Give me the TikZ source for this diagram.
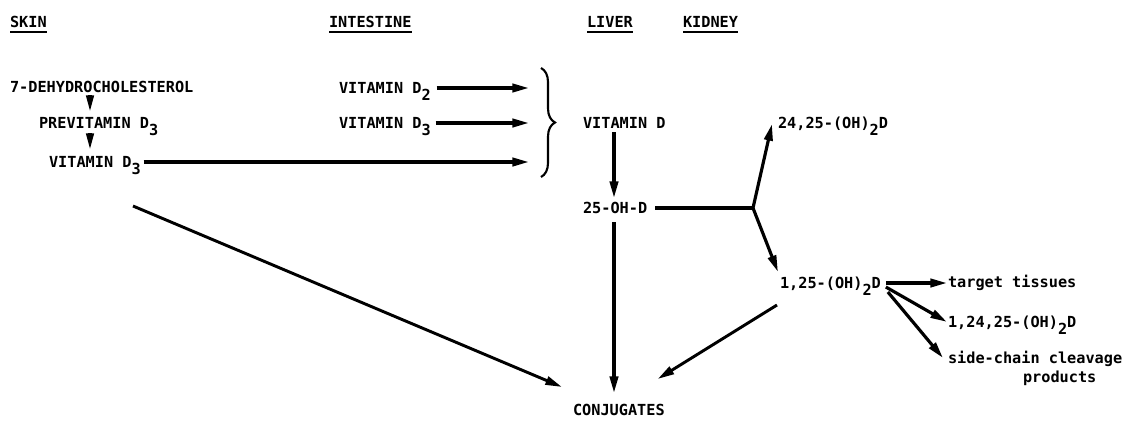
\documentclass[tikz,border=0pt]{standalone}
\usepackage{fontspec}
\setmainfont{DejaVu Sans Mono}
\usetikzlibrary{arrows.meta,decorations.pathreplacing}
\newdimen\pxu \pxu=0.03cm % one pixel of the scan
\newsavebox\headbox
\newcommand\headline[1]{\sbox\headbox{#1}\rlap{\rule[-5pt]{\wd\headbox}{1.3pt}}\usebox\headbox}
\newcommand\low[1]{\raisebox{-6pt}{#1}}
\tikzset{
	->, % every connector gets a head
	>={Triangle[length=0.5cm,width=0.25cm]}, % filled heads as in the print
	x=0.03cm, y=-0.03cm, % units are pixels, y runs downwards
	every node/.style={inner sep=0pt, outer sep=0pt, anchor=base west, font=\fontsize{13}{15}\selectfont\bfseries},
	small/.style={>={Triangle[length=0.5cm,width=0.22cm]}}, % the short steps in the skin
}
\begin{document}
\begin{tikzpicture}[line width=2.7pt]
	\path[use as bounding box] (0,0) rectangle (1126,421);

	\node (skin) at (10,27) {\headline{SKIN}};
	\node (intest) at (329,27) {\headline{INTESTINE}};
	\node (liver) at (587,27) {\headline{LIVER}};
	\node (kidney) at (683,27) {\headline{KIDNEY}};

	\node (dehydro) at (10,92) {7-DEHYDROCHOLESTEROL};
	\node (prevD) at (39,128) {PREVITAMIN D\low{3}};
	\node (skinD) at (49,167) {VITAMIN D\low{3}};
	\node (intDtwo) at (339,93) {VITAMIN D\low{2}};
	\node (intDthree) at (339,128) {VITAMIN D\low{3}};
	\node (vitD) at (583,128) {VITAMIN D};
	\node (ohD) at (583,213) {25-OH-D};
	\node (dhD) at (778,128) {24,25-(OH)\low{2}D};
	\node (calD) at (780,288) {1,25-(OH)\low{2}D};
	\node (target) at (948,287) {target tissues};
	\node (triD) at (948,327) {1,24,25-(OH)\low{2}D};
	\node (side) at (948,363) {side-chain cleavage};
	\node (prod) at (1023,382) {products};
	\node (conj) at (573,415) {CONJUGATES};

	\coordinate (skx) at (90,0);
	\coordinate (inlet) at (529,0);
	\coordinate (livx) at (614,0);
	\coordinate (fork) at (753,208);
	\coordinate (btop) at (541,68);
	\coordinate (bbot) at (541,177);

	% skin
	\draw[small] ([yshift=-3\pxu]dehydro.base -| skx) -- ([yshift=16\pxu]prevD.base -| skx);
	\draw[small] ([yshift=-5\pxu]prevD.base -| skx) -- ([yshift=17\pxu]skinD.base -| skx);
	\draw ([xshift=3\pxu,yshift=5\pxu]skinD.base east) -- ([yshift=5\pxu]skinD.base -| inlet);

	% intestine
	\draw ([xshift=6\pxu,yshift=5\pxu]intDtwo.base east) -- ([yshift=5\pxu]intDtwo.base -| inlet);
	\draw ([xshift=5\pxu,yshift=5\pxu]intDthree.base east) -- ([yshift=5\pxu]intDthree.base -| inlet);
	\draw[-, line width=1.8pt, decorate, decoration={brace, amplitude=14\pxu}] (btop) -- (bbot);

	% liver
	\draw ([yshift=-4\pxu]vitD.base -| livx) -- ([yshift=15\pxu]ohD.base -| livx);
	\draw ([yshift=-9\pxu]ohD.base -| livx) -- ([yshift=22\pxu]conj.base -| livx);
	\draw[-] ([xshift=8\pxu,yshift=5\pxu]ohD.base east) -- (fork);

	% kidney
	\draw (fork) -- ([xshift=-6\pxu,yshift=4\pxu]dhD.base west);
	\draw (fork) -- ([xshift=-2\pxu,yshift=16\pxu]calD.base west);
	\draw ([xshift=5\pxu,yshift=5\pxu]calD.base east) -- ([xshift=-1\pxu,yshift=4\pxu]target.base west);
	\draw ([xshift=5\pxu,yshift=1\pxu]calD.base east) -- ([xshift=-1\pxu,yshift=5\pxu]triD.base west);
	\draw ([xshift=7\pxu,yshift=-4\pxu]calD.base east) -- ([xshift=-5\pxu,yshift=5\pxu]side.base west);

	% conjugates
	\draw[line width=2.5pt] ([xshift=84\pxu,yshift=-39\pxu]skinD.base west) -- ([xshift=-11\pxu,yshift=28\pxu]conj.base west);
	\draw[line width=2.5pt] ([xshift=-3\pxu,yshift=-17\pxu]calD.base west) -- ([xshift=-7\pxu,yshift=36\pxu]conj.base east);
\end{tikzpicture}
\end{document}
